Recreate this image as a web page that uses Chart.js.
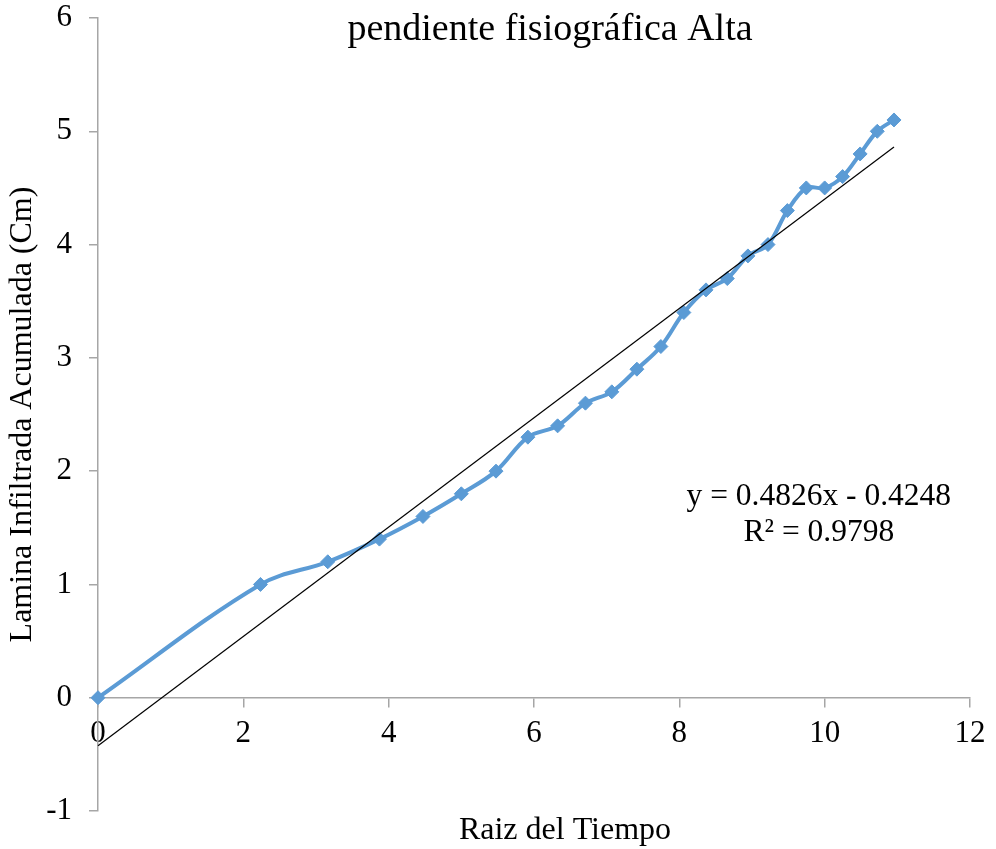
<!DOCTYPE html>
<html>
<head>
<meta charset="utf-8">
<script src="https://cdn.jsdelivr.net/npm/chart.js@4/dist/chart.umd.min.js"></script>
<style>
  html, body { margin: 0; padding: 0; background: #ffffff; }
  #wrap { width: 996px; height: 849px; }
</style>
</head>
<body>
<div id="wrap"><canvas id="c" width="996" height="849"></canvas></div>
<script>
// Square root of elapsed time (min^0.5) and cumulative infiltrated depth (cm)
const raizTiempo = [0, 2.236, 3.162, 3.873, 4.472, 5.000, 5.477, 5.916, 6.325, 6.708,
  7.071, 7.416, 7.746, 8.062, 8.367, 8.660, 8.944, 9.220, 9.487, 9.747,
  10.000, 10.247, 10.488, 10.724, 10.954];
const laminaAcumulada = [0, 1.0, 1.2, 1.4, 1.6, 1.8, 2.0, 2.3, 2.4, 2.6,
  2.7, 2.9, 3.1, 3.4, 3.6, 3.7, 3.9, 4.0, 4.3, 4.5,
  4.5, 4.6, 4.8, 5.0, 5.1];

// Linear trend line coefficients (as printed on the chart)
const pendiente = 0.4826;
const intercepto = -0.4248;
const r2 = 0.9798;

const xTicks = [0, 2, 4, 6, 8, 10, 12];
const yTicks = [-1, 0, 1, 2, 3, 4, 5, 6];

const tituloGrafico = 'pendiente fisiográfica Alta';
const tituloX = 'Raiz del Tiempo';
const tituloY = 'Lamina Infiltrada Acumulada (Cm)';

const FONT = '"Liberation Serif", "Times New Roman", serif';
const AXIS_GRAY = '#a6a6a6';

const serie = raizTiempo.map((x, i) => ({ x: x, y: laminaAcumulada[i] }));
const xFin = raizTiempo[raizTiempo.length - 1];
const tendencia = [
  { x: 0, y: intercepto },
  { x: xFin, y: pendiente * xFin + intercepto }
];

const fmt = (v, d) => (v < 0 ? '- ' : '+ ') + Math.abs(v).toFixed(d);

// Chart title, x-axis title and trend line equation
const textos = {
  id: 'textos',
  afterDraw(chart) {
    const ctx = chart.ctx;
    ctx.save();
    ctx.fillStyle = '#000';
    ctx.textAlign = 'center';
    ctx.textBaseline = 'middle';
    ctx.font = '38px ' + FONT;
    ctx.fillText(tituloGrafico, 550, 30);
    ctx.font = '32px ' + FONT;
    ctx.fillText(tituloX, 565, 831);
    const xs = chart.scales.x, ys = chart.scales.y;
    const cx = xs.getPixelForValue(9.92);
    const cy = ys.getPixelForValue(1.77);
    ctx.font = '31.5px ' + FONT;
    ctx.fillText('y = ' + pendiente.toFixed(4) + 'x ' + fmt(intercepto, 4), cx, cy);
    ctx.fillText('R² = ' + r2.toFixed(4), cx, cy + 36);
    ctx.restore();
  }
};

new Chart(document.getElementById('c'), {
  type: 'scatter',
  data: {
    datasets: [
      {
        label: 'Tendencia',
        data: tendencia,
        showLine: true,
        borderColor: '#000000',
        borderWidth: 1.2,
        pointRadius: 0,
        pointHoverRadius: 0,
        order: 0,
        clip: false
      },
      {
        label: 'Lamina',
        data: serie,
        showLine: true,
        borderColor: '#5b9bd5',
        backgroundColor: '#5b9bd5',
        borderWidth: 4,
        tension: 0.35,
        pointStyle: 'rectRot',
        pointRadius: 7,
        pointBorderWidth: 1,
        pointBorderColor: '#5b9bd5',
        pointBackgroundColor: '#5b9bd5',
        order: 1,
        clip: false
      }
    ]
  },
  options: {
    responsive: false,
    animation: false,
    devicePixelRatio: 1,
    layout: { padding: { left: 0, right: 26, top: 18, bottom: 38 } },
    plugins: {
      legend: { display: false },
      tooltip: { enabled: false },
      title: { display: false }
    },
    scales: {
      x: {
        type: 'linear',
        position: { y: 0 },
        min: xTicks[0],
        max: xTicks[xTicks.length - 1],
        afterBuildTicks(scale) { scale.ticks = xTicks.map(v => ({ value: v })); },
        grid: { drawOnChartArea: false, drawTicks: true, tickLength: 9, color: AXIS_GRAY, lineWidth: 1.5 },
        border: { display: true, color: AXIS_GRAY, width: 1.5 },
        ticks: { color: '#000', font: { family: FONT, size: 31 }, padding: 9, maxRotation: 0 }
      },
      y: {
        type: 'linear',
        position: 'left',
        min: yTicks[0],
        max: yTicks[yTicks.length - 1],
        afterBuildTicks(scale) { scale.ticks = yTicks.map(v => ({ value: v })); },
        afterFit(scale) {
          scale.width = 98;
          scale.paddingTop = 0;
          scale.paddingBottom = 0;
        },
        grid: { drawOnChartArea: false, drawTicks: true, tickLength: 9, color: AXIS_GRAY, lineWidth: 1.5 },
        border: { display: true, color: AXIS_GRAY, width: 1.5 },
        ticks: { color: '#000', font: { family: FONT, size: 31 }, padding: 17 },
        title: {
          display: true,
          text: tituloY,
          color: '#000',
          font: { family: FONT, size: 32 },
          padding: { top: 3, bottom: 0 }
        }
      }
    }
  },
  plugins: [textos]
});
</script>
</body>
</html>
